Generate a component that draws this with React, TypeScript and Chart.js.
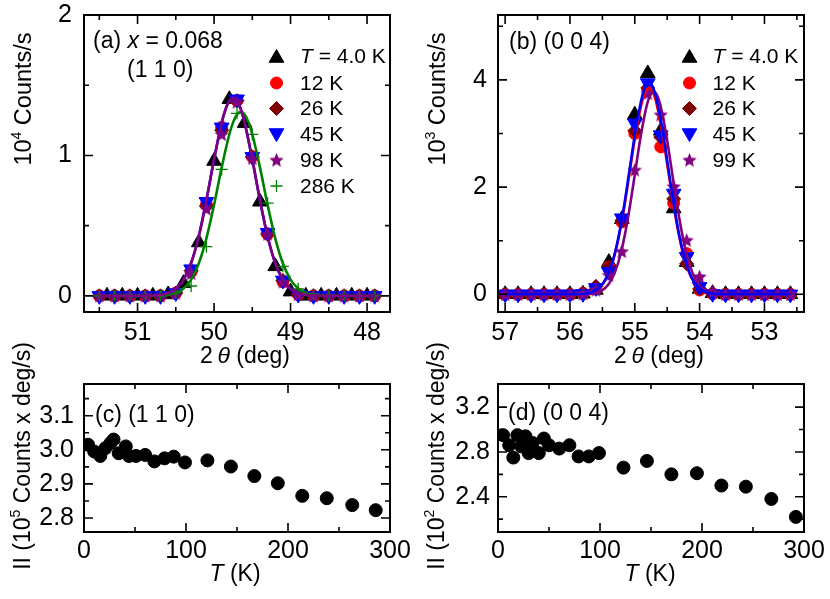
import React, { useEffect, useRef } from 'react';
import { Chart, registerables } from 'chart.js';
import { drawPoint } from 'chart.js/helpers';

Chart.register(...registerables);

const FONT = '"Liberation Sans", Arial, Helvetica, sans-serif';

// ---------- Panel (a): (1 1 0) scans, 10^4 counts/s ----------
const aXOdd = [51.5, 51.3, 51.1, 50.9, 50.7, 50.5, 50.3, 50.1, 49.9, 49.7, 49.5, 49.3, 49.1, 48.9, 48.7, 48.5, 48.3, 48.1, 47.9];
const aXEven = [51.4, 51.2, 51.0, 50.8, 50.6, 50.4, 50.2, 50.0, 49.8, 49.6, 49.4, 49.2, 49.0, 48.8, 48.6, 48.4, 48.2, 48.0];
const aY4K = [0, 0, 0, 0, 0.01, 0.09, 0.38, 0.96, 1.40, 1.23, 0.67, 0.21, 0.03, 0, 0, 0, 0, 0];
const aY12K = [0, 0, 0, 0, 0, 0.02, 0.17, 0.65, 1.20, 1.39, 0.99, 0.44, 0.10, 0.01, 0, 0, 0, 0, 0];
const aY26K = [0, 0, 0, 0, 0, 0.02, 0.18, 0.64, 1.18, 1.39, 0.99, 0.44, 0.11, 0.01, 0, 0, 0, 0, 0];
const aY45K = [0, 0, 0, 0, 0, 0.02, 0.19, 0.67, 1.20, 1.40, 0.99, 0.45, 0.11, 0.01, 0, 0, 0, 0, 0];
const aY98K = [0, 0, 0, 0, 0, 0.02, 0.16, 0.62, 1.15, 1.38, 0.98, 0.44, 0.10, 0.01, 0, 0, 0, 0, 0];
const aY286K = [0, 0, 0, 0, 0, 0.02, 0.07, 0.35, 0.90, 1.30, 1.15, 0.66, 0.21, 0.05, 0.01, 0, 0, 0, 0];
const aFitX = [51.5, 51.0, 50.8, 50.7, 50.6, 50.5, 50.4, 50.3, 50.2, 50.1, 50.0, 49.9, 49.85, 49.8, 49.75, 49.7, 49.65, 49.6, 49.5, 49.4, 49.3, 49.2, 49.1, 49.0, 48.9, 48.8, 48.7, 48.5, 47.9];
const aFitY = [0, 0, 0.002, 0.007, 0.019, 0.050, 0.114, 0.234, 0.423, 0.681, 0.972, 1.233, 1.328, 1.389, 1.41, 1.389, 1.328, 1.233, 0.972, 0.681, 0.423, 0.234, 0.114, 0.050, 0.019, 0.007, 0.002, 0, 0];
const aFit286X = [51.5, 50.8, 50.7, 50.6, 50.5, 50.4, 50.3, 50.2, 50.1, 50.0, 49.9, 49.8, 49.75, 49.7, 49.65, 49.6, 49.55, 49.5, 49.4, 49.3, 49.2, 49.1, 49.0, 48.9, 48.8, 48.7, 48.6, 48.4, 47.9];
const aFit286Y = [0, 0, 0.002, 0.007, 0.021, 0.052, 0.116, 0.230, 0.409, 0.648, 0.915, 1.151, 1.237, 1.291, 1.31, 1.291, 1.237, 1.151, 0.915, 0.648, 0.409, 0.230, 0.116, 0.052, 0.021, 0.007, 0.002, 0, 0];
const aXTicks = [48, 49, 50, 51];
const aXMinor = [48.5, 49.5, 50.5, 51.5];
const aYTicks = [0, 1, 2];
const aYMinor = [0.5, 1.5];

// ---------- Panel (b): (0 0 4) scans, 10^3 counts/s ----------
const bX = [57.0, 56.8, 56.6, 56.4, 56.2, 56.0, 55.8, 55.6, 55.4, 55.2, 55.0, 54.8, 54.6, 54.4, 54.2, 54.0, 53.8, 53.6, 53.4, 53.2, 53.0, 52.8, 52.6];
const bY4K = [0, 0, 0, 0, 0, 0, 0.01, 0.08, 0.60, 1.40, 3.35, 4.12, 3.05, 1.60, 0.60, 0.10, 0.02, 0, 0, 0, 0, 0, 0];
const bY12K = [0, 0, 0, 0, 0, 0, 0.02, 0.10, 0.51, 1.35, 3.00, 3.81, 2.75, 1.70, 0.76, 0.08, 0.01, 0, 0, 0, 0, 0, 0];
const bY26K = [0, 0, 0, 0, 0, 0, 0.02, 0.15, 0.50, 1.37, 3.05, 3.85, 2.93, 1.78, 0.57, 0.10, 0.01, 0, 0, 0, 0, 0, 0];
const bY45K = [0, 0, 0, 0, 0, 0, 0.01, 0.12, 0.42, 1.42, 3.19, 3.94, 2.97, 1.88, 0.70, 0.14, 0.01, 0, 0, 0, 0, 0, 0];
const bY99K = [0, 0, 0, 0, 0, 0, 0.01, 0.08, 0.36, 0.80, 2.32, 3.75, 3.35, 2.01, 1.01, 0.33, 0.05, 0, 0, 0, 0, 0, 0];
const bFitX = [57.0, 55.98, 55.88, 55.78, 55.68, 55.58, 55.48, 55.38, 55.28, 55.18, 55.08, 54.98, 54.88, 54.83, 54.78, 54.73, 54.68, 54.58, 54.48, 54.38, 54.28, 54.18, 54.08, 53.98, 53.88, 53.78, 53.68, 53.58, 52.6];
const bFit45Y = [0, 0, 0.003, 0.011, 0.034, 0.092, 0.221, 0.475, 0.907, 1.54, 2.33, 3.12, 3.72, 3.89, 3.95, 3.89, 3.72, 3.12, 2.33, 1.54, 0.907, 0.475, 0.221, 0.092, 0.034, 0.011, 0.003, 0, 0];
const bFit12Y = [0, 0, 0.003, 0.011, 0.033, 0.090, 0.215, 0.463, 0.884, 1.50, 2.27, 3.04, 3.63, 3.79, 3.85, 3.79, 3.63, 3.04, 2.27, 1.50, 0.884, 0.463, 0.215, 0.090, 0.033, 0.011, 0.003, 0, 0];
const bFit99X = [57.0, 55.81, 55.71, 55.61, 55.51, 55.41, 55.31, 55.21, 55.11, 55.01, 54.91, 54.81, 54.76, 54.71, 54.66, 54.61, 54.51, 54.41, 54.31, 54.21, 54.11, 54.01, 53.91, 53.81, 53.71, 53.61, 52.6];
const bFit99Y = [0, 0, 0.007, 0.024, 0.069, 0.177, 0.40, 0.79, 1.39, 2.15, 2.94, 3.55, 3.72, 3.78, 3.72, 3.55, 2.94, 2.15, 1.39, 0.79, 0.40, 0.177, 0.069, 0.024, 0.007, 0, 0];
const bXTicks = [53, 54, 55, 56, 57];
const bXMinor = [52.5, 53.5, 54.5, 55.5, 56.5];
const bYTicks = [0, 2, 4];
const bYMinor = [1, 3, 5];

// ---------- Panel (c): integrated intensity (1 1 0) ----------
const cT = [4, 10, 16, 21, 26, 29, 34, 41, 44, 51, 60, 69, 79, 88, 99, 121, 144, 167, 190, 214, 238, 263, 286];
const cII = [3.015, 2.995, 2.982, 3.005, 3.020, 3.030, 2.990, 3.010, 2.982, 2.982, 2.985, 2.966, 2.975, 2.980, 2.963, 2.969, 2.951, 2.923, 2.902, 2.865, 2.858, 2.838, 2.823];
const cXTicks = [0, 100, 200, 300];
const cXMinor = [50, 150, 250];
const cYTicks = [2.8, 2.9, 3.0, 3.1];
const cYMinor = [2.85, 2.95, 3.05, 3.15];

// ---------- Panel (d): integrated intensity (0 0 4) ----------
const dT = [5, 11, 15, 19, 23, 27, 30, 34, 40, 45, 50, 60, 70, 79, 89, 99, 123, 146, 170, 195, 219, 243, 268, 292];
const dII = [2.95, 2.86, 2.75, 2.95, 2.85, 2.94, 2.79, 2.88, 2.79, 2.92, 2.86, 2.83, 2.86, 2.76, 2.76, 2.79, 2.66, 2.72, 2.60, 2.61, 2.50, 2.49, 2.38, 2.22];
const dXTicks = [0, 100, 200, 300];
const dXMinor = [50, 150, 250];
const dYTicks = [2.4, 2.8, 3.2];
const dYMinor = [2.2, 2.6, 3.0];

type Seg = { t: string; it?: boolean; sup?: boolean };

function pts(xs: number[], ys: number[]) {
  return xs.map((x, i) => ({ x, y: ys[i] }));
}

function drawRich(ctx: CanvasRenderingContext2D, segs: Seg[], x: number, y: number, size: number, align: 'left' | 'center', rotate = false) {
  ctx.save();
  ctx.translate(x, y);
  if (rotate) ctx.rotate(-Math.PI / 2);
  const fontFor = (s: Seg) => `${s.it ? 'italic ' : ''}${s.sup ? Math.round(size * 0.6) : size}px ${FONT}`;
  let total = 0;
  const widths = segs.map((s) => {
    ctx.font = fontFor(s);
    const w = ctx.measureText(s.t).width;
    total += w;
    return w;
  });
  let cx = align === 'center' ? -total / 2 : 0;
  ctx.fillStyle = '#000';
  ctx.textBaseline = 'alphabetic';
  ctx.textAlign = 'left';
  segs.forEach((s, i) => {
    ctx.font = fontFor(s);
    ctx.fillText(s.t, cx, s.sup ? -size * 0.42 : 0);
    cx += widths[i];
  });
  ctx.restore();
}

function makeStar(color: string, R: number) {
  const c = document.createElement('canvas');
  const s = Math.ceil(R * 2 + 2);
  c.width = s;
  c.height = s;
  const g = c.getContext('2d')!;
  g.fillStyle = color;
  g.beginPath();
  for (let i = 0; i < 10; i++) {
    const r = i % 2 === 0 ? R : R * 0.45;
    const ang = -Math.PI / 2 + (i * Math.PI) / 5;
    g.lineTo(s / 2 + r * Math.cos(ang), s / 2 + r * Math.sin(ang) + 0.6);
  }
  g.closePath();
  g.fill();
  return c;
}

type Sty = { ps: any; r: number; rot: number; color: string; bw: number };

function pointSet(data: any[], st: Sty, order: number) {
  return {
    data,
    showLine: false,
    pointStyle: st.ps,
    pointRadius: st.r,
    pointRotation: st.rot,
    pointBackgroundColor: st.color,
    pointBorderColor: st.color,
    pointBorderWidth: st.bw,
    order,
  };
}

function lineSet(data: any[], color: string, order: number) {
  return {
    data,
    showLine: true,
    pointRadius: 0,
    borderColor: color,
    borderWidth: 2.6,
    cubicInterpolationMode: 'monotone',
    fill: false,
    order,
  };
}

function legendRow(ctx: CanvasRenderingContext2D, st: Sty, mx: number, my: number, tx: number, ty: number, segs: Seg[]) {
  ctx.save();
  ctx.fillStyle = st.color;
  ctx.strokeStyle = st.color;
  ctx.lineWidth = st.bw;
  drawPoint(ctx, { pointStyle: st.ps, radius: st.r, rotation: st.rot, borderWidth: st.bw } as any, mx, my);
  ctx.restore();
  drawRich(ctx, segs, tx, ty, 21, 'left');
}

type AxisCfg = { min: number; max: number; reverse?: boolean; major: number[]; minor: number[]; pad: number; fmt: (v: number) => string };
type Panel = { area: [number, number, number, number]; x: AxisCfg; y: AxisCfg; datasets: any[]; texts: (ctx: CanvasRenderingContext2D) => void };

function framePlugin(p: Panel) {
  return {
    id: 'frameTicks',
    afterDraw(chart: any) {
      const ctx: CanvasRenderingContext2D = chart.ctx;
      const a = chart.chartArea;
      const xs = chart.scales.x;
      const ys = chart.scales.y;
      ctx.save();
      ctx.strokeStyle = '#000';
      ctx.lineWidth = 1.6;
      ctx.beginPath();
      const xt = (vals: number[], len: number) => {
        vals.forEach((v) => {
          const px = xs.getPixelForValue(v);
          ctx.moveTo(px, a.bottom);
          ctx.lineTo(px, a.bottom - len);
          ctx.moveTo(px, a.top);
          ctx.lineTo(px, a.top + len);
        });
      };
      const yt = (vals: number[], len: number) => {
        vals.forEach((v) => {
          const py = ys.getPixelForValue(v);
          ctx.moveTo(a.left, py);
          ctx.lineTo(a.left + len, py);
          ctx.moveTo(a.right, py);
          ctx.lineTo(a.right - len, py);
        });
      };
      xt(p.x.major, 9);
      xt(p.x.minor, 5);
      yt(p.y.major, 9);
      yt(p.y.minor, 5);
      ctx.stroke();
      ctx.lineWidth = 2;
      ctx.strokeRect(a.left, a.top, a.right - a.left, a.bottom - a.top);
      ctx.restore();
      p.texts(ctx);
    },
  };
}

function buildConfig(p: Panel): any {
  const [L, T, R, B] = p.area;
  const YW = 70;
  const XH = 50;
  const fixPad = (s: any) => {
    s.paddingLeft = 0;
    s.paddingRight = 0;
    s.paddingTop = 0;
    s.paddingBottom = 0;
  };
  return {
    type: 'scatter',
    data: { datasets: p.datasets },
    options: {
      animation: false,
      responsive: false,
      events: [],
      layout: { padding: { left: L - YW, top: T, right: 830 - R, bottom: 599 - B - XH } },
      plugins: { legend: { display: false }, tooltip: { enabled: false } },
      scales: {
        x: {
          type: 'linear',
          position: 'bottom',
          min: p.x.min,
          max: p.x.max,
          reverse: !!p.x.reverse,
          grid: { display: false, drawTicks: false },
          border: { display: false },
          ticks: { color: '#000', font: { family: FONT, size: 25 }, padding: p.x.pad, maxRotation: 0, autoSkip: false, callback: (v: any) => p.x.fmt(Number(v)) },
          afterBuildTicks: (s: any) => {
            s.ticks = p.x.major.map((v) => ({ value: v }));
          },
          afterFit: (s: any) => {
            s.height = XH;
            fixPad(s);
          },
        },
        y: {
          type: 'linear',
          position: 'left',
          min: p.y.min,
          max: p.y.max,
          grid: { display: false, drawTicks: false },
          border: { display: false },
          ticks: { color: '#000', font: { family: FONT, size: 25 }, padding: p.y.pad, autoSkip: false, callback: (v: any) => p.y.fmt(Number(v)) },
          afterBuildTicks: (s: any) => {
            s.ticks = p.y.major.map((v) => ({ value: v }));
          },
          afterFit: (s: any) => {
            s.width = YW;
            fixPad(s);
          },
        },
      },
    },
    plugins: [framePlugin(p)],
  };
}

function makePanels(star: HTMLCanvasElement): Panel[] {
  const sTri: Sty = { ps: 'triangle', r: 8.5, rot: 0, color: '#000000', bw: 1 };
  const sCirc: Sty = { ps: 'circle', r: 6, rot: 0, color: '#ff0000', bw: 1 };
  const sDia: Sty = { ps: 'rectRot', r: 7, rot: 0, color: '#800000', bw: 1 };
  const sDown: Sty = { ps: 'triangle', r: 8.5, rot: 180, color: '#0000ff', bw: 1 };
  const sStar: Sty = { ps: star, r: 7, rot: 0, color: '#800080', bw: 1 };
  const sCross: Sty = { ps: 'cross', r: 6, rot: 0, color: '#008000', bw: 1.3 };
  const sDot: Sty = { ps: 'circle', r: 6.5, rot: 0, color: '#000000', bw: 1 };
  const str = (v: number) => String(v);
  const f1 = (v: number) => v.toFixed(1);
  const rowsY = [58, 83, 108.5, 133, 160, 186];
  const baseY = [63.3, 89.5, 115.3, 141.2, 167, 192.8];

  const panelA: Panel = {
    area: [84, 15, 390, 312],
    x: { min: 47.7, max: 51.7, reverse: true, major: aXTicks, minor: aXMinor, pad: 6, fmt: str },
    y: { min: -0.115, max: 2, major: aYTicks, minor: aYMinor, pad: 12, fmt: str },
    datasets: [
      lineSet(pts(aFitX, aFitY), '#800080', 0),
      lineSet(pts(aFit286X, aFit286Y), '#008000', 1),
      lineSet(pts(aFitX, aFitY), '#0000ff', 2),
      pointSet(pts(aXOdd, aY286K), sCross, 10),
      pointSet(pts(aXOdd, aY98K), sStar, 11),
      pointSet(pts(aXOdd, aY45K), sDown, 12),
      pointSet(pts(aXOdd, aY26K), sDia, 13),
      pointSet(pts(aXOdd, aY12K), sCirc, 14),
      pointSet(pts(aXEven, aY4K), sTri, 15),
    ],
    texts: (ctx) => {
      drawRich(ctx, [{ t: '(a) ' }, { t: 'x', it: true }, { t: ' = 0.068' }], 93, 48, 23, 'left');
      drawRich(ctx, [{ t: '(1 1 0)' }], 127, 77, 23, 'left');
      const sts = [sTri, sCirc, sDia, sDown, sStar, sCross];
      const labs: Seg[][] = [[{ t: 'T', it: true }, { t: ' = 4.0 K' }], [{ t: '12 K' }], [{ t: '26 K' }], [{ t: '45 K' }], [{ t: '98 K' }], [{ t: '286 K' }]];
      sts.forEach((st, i) => legendRow(ctx, st, 276.5, rowsY[i], 300, baseY[i], labs[i]));
      drawRich(ctx, [{ t: '10' }, { t: '4', sup: true }, { t: ' Counts/s' }], 31, 99, 23.5, 'center', true);
      drawRich(ctx, [{ t: '2\u2009' }, { t: '\u03b8', it: true }, { t: ' (deg)' }], 245, 363, 23, 'center');
    },
  };

  const panelB: Panel = {
    area: [498, 15, 804, 312],
    x: { min: 52.39, max: 57.11, reverse: true, major: bXTicks, minor: bXMinor, pad: 6, fmt: str },
    y: { min: -0.33, max: 5.21, major: bYTicks, minor: bYMinor, pad: 11, fmt: str },
    datasets: [
      lineSet(pts(bFitX, bFit45Y), '#0000ff', 0),
      lineSet(pts(bFit99X, bFit99Y), '#800080', 1),
      lineSet(pts(bFitX, bFit12Y), '#ff0000', 2),
      pointSet(pts(bX, bY99K), sStar, 10),
      pointSet(pts(bX, bY45K), sDown, 11),
      pointSet(pts(bX, bY26K), sDia, 12),
      pointSet(pts(bX, bY12K), sCirc, 13),
      pointSet(pts(bX, bY4K), sTri, 14),
    ],
    texts: (ctx) => {
      drawRich(ctx, [{ t: '(b) (0 0 4)' }], 509, 49, 23, 'left');
      const sts = [sTri, sCirc, sDia, sDown, sStar];
      const labs: Seg[][] = [[{ t: 'T', it: true }, { t: ' = 4.0 K' }], [{ t: '12 K' }], [{ t: '26 K' }], [{ t: '45 K' }], [{ t: '99 K' }]];
      sts.forEach((st, i) => legendRow(ctx, st, 689.5, rowsY[i], 712.5, baseY[i], labs[i]));
      drawRich(ctx, [{ t: '10' }, { t: '3', sup: true }, { t: ' Counts/s' }], 445, 99, 23.5, 'center', true);
      drawRich(ctx, [{ t: '2\u2009' }, { t: '\u03b8', it: true }, { t: ' (deg)' }], 659, 363, 23, 'center');
    },
  };

  const panelC: Panel = {
    area: [84, 384, 390, 532],
    x: { min: 0, max: 300, major: cXTicks, minor: cXMinor, pad: 4, fmt: str },
    y: { min: 2.759, max: 3.193, major: cYTicks, minor: cYMinor, pad: 10, fmt: f1 },
    datasets: [pointSet(pts(cT, cII), sDot, 10)],
    texts: (ctx) => {
      drawRich(ctx, [{ t: '(c) (1 1 0)' }], 95, 421.5, 23, 'left');
      drawRich(ctx, [{ t: 'II (10' }, { t: '5', sup: true }, { t: ' Counts x deg/s)' }], 30, 456, 23, 'center', true);
      drawRich(ctx, [{ t: 'T', it: true }, { t: ' (K)' }], 235, 581, 23, 'center');
    },
  };

  const panelD: Panel = {
    area: [498, 384, 804, 532],
    x: { min: 0, max: 300, major: dXTicks, minor: dXMinor, pad: 4, fmt: str },
    y: { min: 2.085, max: 3.407, major: dYTicks, minor: dYMinor, pad: 8, fmt: f1 },
    datasets: [pointSet(pts(dT, dII), sDot, 10)],
    texts: (ctx) => {
      drawRich(ctx, [{ t: '(d) (0 0 4)' }], 508, 420, 23, 'left');
      drawRich(ctx, [{ t: 'II (10' }, { t: '2', sup: true }, { t: ' Counts x deg/s)' }], 444, 456, 23, 'center', true);
      drawRich(ctx, [{ t: 'T', it: true }, { t: ' (K)' }], 650, 581, 23, 'center');
    },
  };

  return [panelA, panelB, panelC, panelD];
}

export default function App() {
  const r0 = useRef<HTMLCanvasElement>(null);
  const r1 = useRef<HTMLCanvasElement>(null);
  const r2 = useRef<HTMLCanvasElement>(null);
  const r3 = useRef<HTMLCanvasElement>(null);
  const refs = [r0, r1, r2, r3];

  useEffect(() => {
    const star = makeStar('#800080', 7.5);
    const panels = makePanels(star);
    const charts = panels.map((p, i) => new Chart(refs[i].current as HTMLCanvasElement, buildConfig(p)));
    return () => charts.forEach((c) => c.destroy());
  }, []);

  return (
    <div style={{ position: 'fixed', left: 0, top: 0, width: 830, height: 599, background: '#ffffff' }}>
      {refs.map((r, i) => (
        <canvas key={i} ref={r} width={830} height={599} style={{ position: 'absolute', left: 0, top: 0, width: 830, height: 599 }} />
      ))}
    </div>
  );
}
